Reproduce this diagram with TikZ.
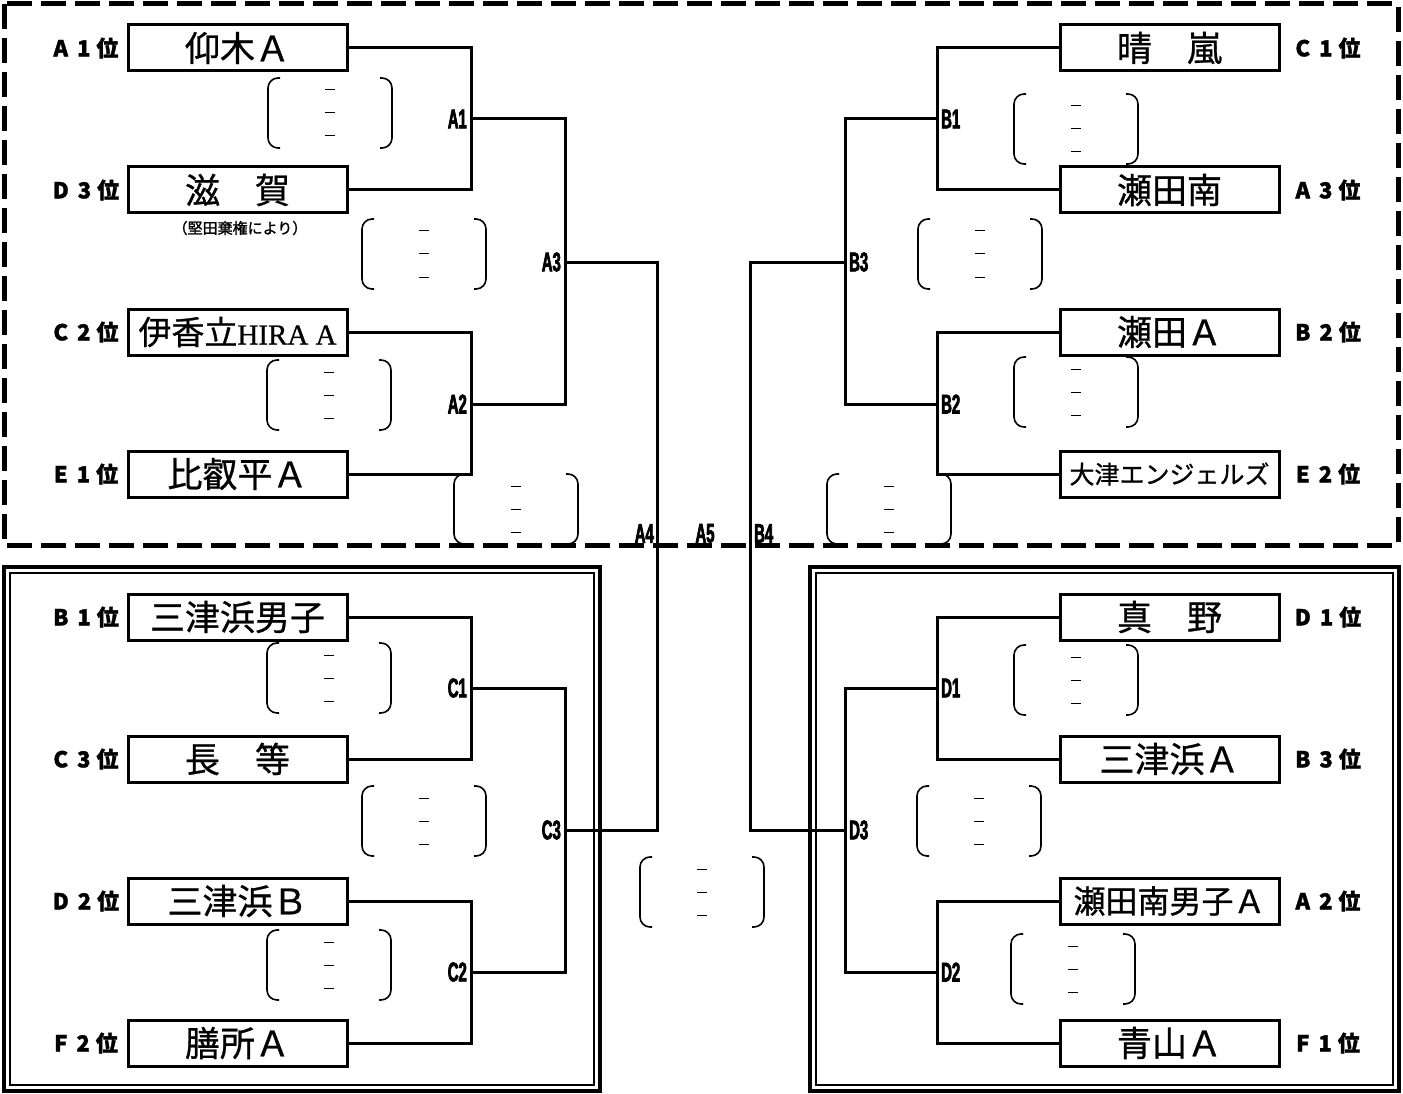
\documentclass[tikz,border=0pt]{standalone}
\usepackage{fontspec}
\newfontfamily\jp[FakeBold=0.8]{Noto Sans CJK JP}
\newfontfamily\jpbold[FakeBold=1.5]{Noto Sans CJK JP}
\newfontfamily\lserif[FakeBold=0.8]{Liberation Serif}
\newfontfamily\cond[FakeStretch=0.55, FakeBold=2.5]{Liberation Sans}
\tikzset{
  team/.style={draw, line width=3pt, minimum width=219pt, minimum height=46pt, inner sep=0pt,
    font=\jp\fontsize{35}{35}\selectfont},
  rank/.style={font=\jpbold\bfseries\fontsize{22}{22}\selectfont, inner sep=0pt},
  jlab/.style={font=\cond\bfseries\fontsize{27}{27}\selectfont, inner sep=0pt},
  conn/.style={line width=3pt},
  score/.pic={
    \draw[line width=1.6pt, rounded corners=10pt] (-50,-35) -- (-62,-35) -- (-62,35) -- (-50,35);
    \draw[line width=1.6pt, rounded corners=10pt] (50,-35) -- (62,-35) -- (62,35) -- (50,35);
    \foreach \d in {-23,0,23} \draw[line width=1pt] (-5,\d) -- (5,\d);
  }
}
\newcommand{\rk}[2]{#1\hspace{9pt}#2\hspace{6pt}位}
\begin{document}
\begin{tikzpicture}[x=1pt,y=-1pt]
\useasboundingbox (0,0) rectangle (1403,1094);
% frames
\draw[line width=5pt, dash pattern=on 25pt off 9pt] (4,4) rectangle (1398,545);
\draw[line width=3.5pt] (4,567) rectangle (600,1091);
\draw[line width=2pt] (10,573) rectangle (594,1085);
\draw[line width=3.5pt] (810,567) rectangle (1399,1091);
\draw[line width=2pt] (816,573) rectangle (1393,1085);

% left teams
\node[team] (t1) at (237.5,48) {仰木Ａ};
\node[team] (t2) at (237.5,190) {滋　賀};
\node[team] (t3) at (237.5,332) {\fontsize{33}{33}\selectfont 伊香立\lserif\fontsize{29}{29}\selectfont HIRA A};
\node[team] (t4) at (237.5,474) {比叡平Ａ};
\node[team] (t5) at (237.5,617) {三津浜男子};
\node[team] (t6) at (237.5,759) {長　等};
\node[team] (t7) at (237.5,901) {三津浜Ｂ};
\node[team] (t8) at (237.5,1043) {膳所Ａ};
% right teams
\node[team] (u1) at (1169.5,48) {晴　嵐};
\node[team] (u2) at (1169.5,190) {瀬田南};
\node[team] (u3) at (1169.5,332) {瀬田Ａ};
\node[team] (u4) at (1169.5,474) {\fontsize{25}{25}\selectfont 大津エンジェルズ};
\node[team] (u5) at (1169.5,617) {真　野};
\node[team] (u6) at (1169.5,759) {三津浜Ａ};
\node[team] (u7) at (1169.5,901) {\fontsize{32}{32}\selectfont 瀬田南男子Ａ};
\node[team] (u8) at (1169.5,1043) {青山Ａ};

\node[font=\jpbold\fontsize{15}{15}\selectfont, inner sep=0pt] (note) at (240,228) {（堅田棄権により）};

% ranks
\node[rank] (r1) at (86,48) {\rk{A}{1}};
\node[rank] (r2) at (86,190) {\rk{D}{3}};
\node[rank] (r3) at (86,332) {\rk{C}{2}};
\node[rank] (r4) at (86,474) {\rk{E}{1}};
\node[rank] (r5) at (86,617) {\rk{B}{1}};
\node[rank] (r6) at (86,759) {\rk{C}{3}};
\node[rank] (r7) at (86,901) {\rk{D}{2}};
\node[rank] (r8) at (86,1043) {\rk{F}{2}};
\node[rank] (s1) at (1328,48) {\rk{C}{1}};
\node[rank] (s2) at (1328,190) {\rk{A}{3}};
\node[rank] (s3) at (1328,332) {\rk{B}{2}};
\node[rank] (s4) at (1328,474) {\rk{E}{2}};
\node[rank] (s5) at (1328,617) {\rk{D}{1}};
\node[rank] (s6) at (1328,759) {\rk{B}{3}};
\node[rank] (s7) at (1328,901) {\rk{A}{2}};
\node[rank] (s8) at (1328,1043) {\rk{F}{1}};

% junctions
\coordinate (A1) at (471,119);
\coordinate (A2) at (471,404);
\coordinate (A3) at (565,262);
\coordinate (C1) at (471,688);
\coordinate (C2) at (471,972);
\coordinate (C3) at (565,830);
\coordinate (A4) at (657,545);
\coordinate (B1) at (937,119);
\coordinate (B2) at (937,404);
\coordinate (B3) at (845,262);
\coordinate (D1) at (937,688);
\coordinate (D2) at (937,972);
\coordinate (D3) at (845,830);
\coordinate (B4) at (750,545);

\draw[conn] (t1.east) -| (A1) |- (t2.east);
\draw[conn] (t3.east) -| (A2) |- (t4.east);
\draw[conn] (A1) -| (A3) |- (A2);
\draw[conn] (t5.east) -| (C1) |- (t6.east);
\draw[conn] (t7.east) -| (C2) |- (t8.east);
\draw[conn] (C1) -| (C3) |- (C2);
\draw[conn] (A3) -| (A4) |- (C3);

\draw[conn] (u1.west) -| (B1) |- (u2.west);
\draw[conn] (u3.west) -| (B2) |- (u4.west);
\draw[conn] (B1) -| (B3) |- (B2);
\draw[conn] (u5.west) -| (D1) |- (u6.west);
\draw[conn] (u7.west) -| (D2) |- (u8.west);
\draw[conn] (D1) -| (D3) |- (D2);
\draw[conn] (B3) -| (B4) |- (D3);

% labels
\node[jlab, anchor=east] (lA1) at (467,119) {A1};
\node[jlab, anchor=east] (lA2) at (467,404) {A2};
\node[jlab, anchor=east] (lA3) at (561,262) {A3};
\node[jlab, anchor=east] (lC1) at (467,688) {C1};
\node[jlab, anchor=east] (lC2) at (467,972) {C2};
\node[jlab, anchor=east] (lC3) at (561,830) {C3};
\node[jlab, anchor=west] (lB1) at (941,119) {B1};
\node[jlab, anchor=west] (lB2) at (941,404) {B2};
\node[jlab, anchor=west] (lB3) at (849,262) {B3};
\node[jlab, anchor=west] (lD1) at (941,688) {D1};
\node[jlab, anchor=west] (lD2) at (941,972) {D2};
\node[jlab, anchor=west] (lD3) at (849,830) {D3};
\node[jlab, anchor=south east] (lA4) at (654,543) {A4};
\node[jlab, anchor=south] (lA5) at (705,543) {A5};
\node[jlab, anchor=south west] (lB4) at (754,543) {B4};

% score placeholders
\pic at (330,113) {score};
\pic at (424,254) {score};
\pic at (329,395) {score};
\pic at (516,509) {score};
\pic at (1076,129) {score};
\pic at (980,254) {score};
\pic at (1076,392) {score};
\pic at (889,509) {score};
\pic at (702,892) {score};
\pic at (329,678) {score};
\pic at (424,821) {score};
\pic at (329,965) {score};
\pic at (1076,680) {score};
\pic at (979,821) {score};
\pic at (1073,969) {score};
\end{tikzpicture}
\end{document}
